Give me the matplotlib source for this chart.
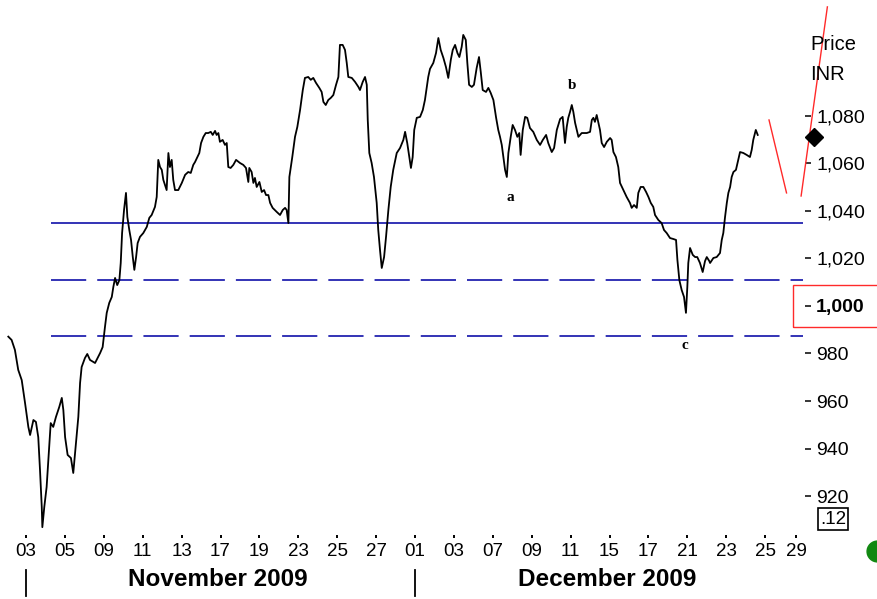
import matplotlib
matplotlib.use("Agg")
import matplotlib.pyplot as plt
from matplotlib.patches import Rectangle
from matplotlib.lines import Line2D
from matplotlib.transforms import blended_transform_factory
from matplotlib.ticker import FuncFormatter

# ---------------- data ----------------
# x: position in trading sessions from 03 Nov 2009, y: price (INR)
days = [-0.91, -0.74, -0.57, -0.40, -0.22, -0.05, 0.12, 0.21, 0.38, 0.51, 0.63, 0.72, 0.81, 0.84, 0.94,
        1.06, 1.18, 1.27, 1.40, 1.54, 1.71, 1.84, 1.92, 2.01, 2.14, 2.31, 2.43, 2.57, 2.69, 2.78,
        2.86, 3.03, 3.15, 3.29, 3.55, 3.81, 3.94, 4.06, 4.15, 4.28, 4.41, 4.49, 4.58, 4.69, 4.80,
        4.87, 4.94, 5.04, 5.14, 5.21, 5.31, 5.40, 5.49, 5.57, 5.66, 5.74, 5.86, 6.03, 6.21, 6.34,
        6.46, 6.63, 6.72, 6.80, 6.89, 6.98, 7.06, 7.15, 7.23, 7.32, 7.40, 7.49, 7.57, 7.66, 7.83,
        8.01, 8.18, 8.34, 8.47, 8.60, 8.69, 8.81, 8.91, 9.00, 9.12, 9.24, 9.37, 9.50, 9.60, 9.72,
        9.80, 9.89, 9.97, 10.11, 10.23, 10.32, 10.40, 10.52, 10.66, 10.80, 11.00, 11.17, 11.31, 11.43, 11.48,
        11.60, 11.69, 11.77, 11.86, 12.00, 12.12, 12.24, 12.34, 12.46, 12.55, 12.68, 12.89, 13.06, 13.20, 13.32,
        13.40, 13.49, 13.54, 13.69, 13.83, 13.95, 14.09, 14.23, 14.34, 14.51, 14.64, 14.77, 14.91, 15.08, 15.20,
        15.29, 15.41, 15.54, 15.67, 15.80, 15.94, 16.06, 16.14, 16.28, 16.40, 16.49, 16.57, 16.75, 16.92, 17.09,
        17.17, 17.31, 17.43, 17.52, 17.57, 17.65, 17.77, 17.89, 18.03, 18.11, 18.20, 18.29, 18.41, 18.51, 18.63,
        18.75, 18.88, 19.06, 19.23, 19.40, 19.49, 19.60, 19.71, 19.79, 19.88, 19.96, 20.09, 20.26, 20.40, 20.51,
        20.60, 20.68, 20.77, 20.94, 21.08, 21.20, 21.32, 21.46, 21.59, 21.71, 21.84, 21.94, 22.06, 22.18, 22.28,
        22.40, 22.48, 22.61, 22.69, 22.78, 22.92, 23.03, 23.17, 23.29, 23.38, 23.48, 23.65, 23.77, 23.89, 24.03,
        24.17, 24.28, 24.37, 24.46, 24.54, 24.63, 24.72, 24.80, 24.92, 25.02, 25.14, 25.26, 25.36, 25.43, 25.54,
        25.66, 25.77, 25.91, 26.08, 26.26, 26.43, 26.57, 26.74, 26.85, 27.03, 27.15, 27.29, 27.46, 27.59, 27.71,
        27.80, 27.88, 27.97, 28.06, 28.14, 28.23, 28.40, 28.57, 28.83, 29.00, 29.09, 29.17, 29.25, 29.34, 29.42,
        29.51, 29.60, 29.72, 29.86, 30.03, 30.11, 30.20, 30.33, 30.45, 30.54, 30.71, 30.88, 31.05, 31.14, 31.26,
        31.40, 31.48, 31.60, 31.74, 31.88, 32.00, 32.12, 32.25, 32.34, 32.51, 32.68, 32.80, 32.94, 33.11, 33.28,
        33.42, 33.49, 33.59, 33.71, 33.83, 33.93, 34.00, 34.05, 34.14, 34.28, 34.40, 34.51, 34.65, 34.79, 34.91,
        35.00, 35.13, 35.17, 35.34, 35.51, 35.68, 35.77, 35.85, 35.94, 36.03, 36.11, 36.20, 36.28, 36.37, 36.50,
        36.62, 36.71, 36.88, 37.05, 37.22, 37.31, 37.39, 37.52, 37.62]
price = [987.1, 985.7, 981.5, 973.1, 968.8, 959.2, 949.1, 945.7, 952.0, 951.2, 944.8, 930.9, 915.4, 906.9, 915.4,
         923.8, 939.4, 950.7, 949.1, 953.3, 957.5, 961.3, 956.2, 944.8, 937.3, 936.0, 929.7, 942.3, 953.3, 967.6,
         974.3, 978.1, 979.8, 977.3, 976.0, 980.2, 982.7, 991.2, 997.1, 1001.3, 1003.8, 1008.0, 1011.8, 1008.8, 1010.9,
         1018.1, 1030.7, 1040.4, 1047.6, 1037.5, 1032.0, 1027.8, 1020.6, 1015.2, 1020.6, 1026.5, 1029.1, 1030.7, 1033.3, 1037.1,
         1038.3, 1041.7, 1045.9, 1061.5, 1058.5, 1057.3, 1053.1, 1050.9, 1048.8, 1064.4, 1058.5, 1061.5, 1053.1, 1048.8, 1048.8,
         1051.8, 1055.2, 1056.4, 1056.0, 1059.4, 1060.6, 1062.7, 1064.4, 1068.6, 1071.2, 1072.8, 1072.8, 1073.3, 1072.0, 1073.7,
         1072.0, 1072.8, 1069.1, 1069.9, 1067.8, 1068.6, 1058.5, 1058.1, 1059.4, 1061.5, 1060.2, 1059.4, 1058.1, 1052.2, 1058.1,
         1056.4, 1051.8, 1053.9, 1050.1, 1052.2, 1048.0, 1048.8, 1046.7, 1046.7, 1043.4, 1041.3, 1039.6, 1038.3, 1040.4, 1041.3,
         1040.4, 1034.9, 1054.3, 1062.7, 1071.2, 1075.4, 1082.5, 1090.9, 1096.0, 1096.4, 1095.2, 1096.0, 1093.9, 1091.8, 1090.1,
         1085.9, 1084.6, 1086.7, 1087.6, 1088.8, 1093.1, 1096.4, 1109.9, 1109.9, 1107.8, 1102.3, 1096.4, 1096.0, 1094.3, 1092.2,
         1090.9, 1094.3, 1096.4, 1093.1, 1078.3, 1064.4, 1060.2, 1054.3, 1043.4, 1032.0, 1023.6, 1016.0, 1020.6, 1029.1, 1040.4,
         1050.1, 1057.3, 1064.4, 1066.5, 1069.9, 1073.3, 1068.6, 1062.7, 1058.1, 1062.7, 1074.1, 1079.2, 1079.6, 1082.5, 1086.7,
         1091.8, 1096.4, 1099.8, 1102.3, 1106.5, 1112.8, 1107.8, 1104.4, 1100.6, 1096.0, 1103.6, 1107.8, 1109.9, 1106.5, 1104.8,
         1109.1, 1114.1, 1112.0, 1102.3, 1093.1, 1092.2, 1093.1, 1100.2, 1104.8, 1098.5, 1090.9, 1090.1, 1091.8, 1089.7, 1086.7,
         1079.2, 1074.1, 1071.2, 1067.8, 1062.7, 1057.3, 1054.3, 1064.4, 1071.2, 1076.2, 1074.1, 1071.2, 1072.8, 1063.6, 1074.1,
         1079.6, 1079.2, 1074.9, 1073.3, 1069.9, 1067.8, 1069.9, 1072.0, 1068.6, 1064.8, 1066.5, 1074.1, 1078.7, 1079.6, 1068.6,
         1075.4, 1079.2, 1081.7, 1084.6, 1081.7, 1077.1, 1071.2, 1072.8, 1072.8, 1073.3, 1078.3, 1079.2, 1077.5, 1080.4, 1077.5,
         1074.1, 1068.6, 1066.9, 1069.1, 1070.7, 1069.9, 1064.8, 1062.7, 1058.5, 1051.8, 1048.8, 1045.9, 1043.4, 1041.3, 1042.5,
         1041.3, 1047.6, 1050.1, 1050.1, 1048.0, 1045.9, 1043.4, 1041.7, 1038.3, 1036.2, 1034.9, 1032.0, 1030.7, 1028.6, 1028.2,
         1027.8, 1019.4, 1010.9, 1006.7, 1003.8, 997.1, 1008.0, 1018.1, 1024.4, 1021.5, 1020.6, 1020.6, 1018.1, 1014.3, 1018.9,
         1020.6, 1018.9, 1018.1, 1020.2, 1020.6, 1022.3, 1027.8, 1030.7, 1037.5, 1043.4, 1047.6, 1050.1, 1054.3, 1056.4, 1057.3,
         1061.5, 1064.8, 1064.4, 1063.6, 1062.7, 1065.7, 1069.9, 1074.1, 1072.0]

tick_pos = [0, 2, 4, 6, 8, 10, 12, 14, 16, 18, 20, 22, 24, 26, 28, 30, 32, 34, 36, 38, 39.6]
tick_labels = ["03", "05", "09", "11", "13", "17", "19", "23", "25", "27", "01",
               "03", "07", "09", "11", "15", "17", "21", "23", "25", "29"]
month_labels = ["November 2009", "December 2009"]
month_start = [0, 20]
month_center = [9.87, 29.87]

support_solid = 1035.0
support_dashed = [1011.0, 987.5]
level_span = [1.29, 39.95]

proj_down_x = [38.2, 39.1]
proj_down_y = [1078.3, 1047.6]
proj_up_x = [39.85, 41.2]
proj_up_y = [1046.3, 1125.9]

last_marker = (40.5, 1071.2)

wave_labels = ["a", "b", "c"]
wave_x = [24.88, 28.07, 33.88]
wave_y = [1045.5, 1093.0, 983.2]

y_ticks = [920, 940, 960, 980, 1000, 1020, 1040, 1060, 1080]

# ---------------- figure ----------------
W, H = 877, 599
fig = plt.figure(figsize=(W / 100, H / 100), dpi=100)
fig.patch.set_facecolor("white")
ax = fig.add_axes([0, 1 - 535 / H, 805 / W, 535 / H])
ax.set_xlim(-1.337, 40.05)
ax.set_ylim(903.6, 1128.8)
for s in ax.spines.values():
    s.set_visible(False)

BLUE = "#2323b0"
ax.hlines(support_solid, level_span[0], level_span[1], color=BLUE, lw=1.3)
for lv in support_dashed:
    ax.hlines(lv, level_span[0], level_span[1], color=BLUE, lw=1.3,
              linestyles=[(0, (19.5, 6.1))])

ax.plot(days, price, color="black", lw=1.3)

RED = "#ff2a2a"
ax.plot(proj_down_x, proj_down_y, color=RED, lw=1.0, clip_on=False)
ax.plot(proj_up_x, proj_up_y, color=RED, lw=1.0, clip_on=False)
ax.plot([last_marker[0]], [last_marker[1]], marker="D", color="black",
        markersize=9, clip_on=False)

for t, x, y in zip(wave_labels, wave_x, wave_y):
    ax.text(x, y, t, ha="center", va="center", fontsize=11, fontweight="bold",
            family="Liberation Serif")

# x axis
ax.set_xticks(tick_pos)
ax.set_xticklabels(tick_labels, family="Liberation Sans", fontsize=13.5)
ax.tick_params(axis="x", direction="out", length=1.8, width=1.4, pad=4)

# y axis on right
ax.yaxis.tick_right()
ax.set_yticks(y_ticks)
ax.yaxis.set_major_formatter(FuncFormatter(lambda v, p: f"{int(v):,}"))
ax.tick_params(axis="y", direction="out", length=4, width=1.1, pad=4,
               labelsize=14)
fig.canvas.draw()
for lab, v in zip(ax.get_yticklabels(), y_ticks):
    lab.set_family("Liberation Sans")
    if v == 1000:
        lab.set_fontweight("bold")

# red box around current level
fig.add_artist(Rectangle((793 / W, 1 - 327 / H), 120 / W, 42 / H,
                         transform=fig.transFigure, fill=False,
                         edgecolor=RED, lw=1.0))

# axis title
fig.text(810 / W, 1 - 45 / H, "Price", fontsize=14.5, family="Liberation Sans",
         ha="left", va="center")
fig.text(810 / W, 1 - 75 / H, "INR", fontsize=14.5, family="Liberation Sans",
         ha="left", va="center")

# boxed .12
fig.text(833 / W, 1 - 519 / H, ".12", fontsize=13.5, family="Liberation Sans",
         ha="center", va="center",
         bbox=dict(boxstyle="square,pad=0.12", fc="white", ec="black", lw=1.2))

# green dot
fig.add_artist(Line2D([1.0], [1 - 551 / H], marker="o", markersize=15,
                      color="#118811", transform=fig.transFigure))

# month separators and labels
bt = blended_transform_factory(ax.transData, fig.transFigure)
for ms in month_start:
    ax.plot([ms, ms], [1 - 570 / H, 1 - 596 / H], color="black", lw=1.3,
            transform=bt, clip_on=False)
for lbl, mc in zip(month_labels, month_center):
    ax.text(mc, 1 - 580 / H, lbl, transform=bt, ha="center", va="center",
            fontsize=17.5, fontweight="bold", family="Liberation Sans")

fig.savefig("out.png", dpi=100)
